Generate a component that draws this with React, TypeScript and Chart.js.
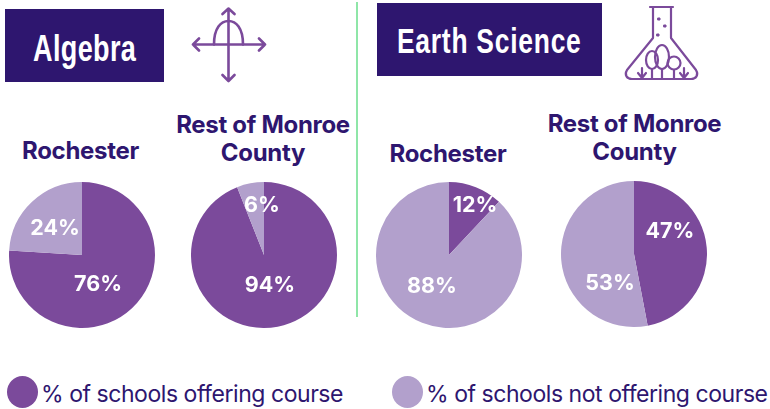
import React, { useEffect, useRef } from "react";
import { Chart, registerables } from "chart.js";

Chart.register(...registerables);

const seriesNames = ["% of schools offering course", "% of schools not offering course"];
const chartTitles = ["Rochester", "Rest of Monroe County", "Rochester", "Rest of Monroe County"];
const algebraRochester = [76, 24];
const algebraRest = [94, 6];
const earthRochester = [12, 88];
const earthRest = [47, 53];

const DARK = "#7b4a9b";
const LIGHT = "#b2a0cc";
const NAVY = "#2e166f";

const labelPlugin = {
  id: "pctLabels",
  afterDatasetsDraw(chart: any) {
    const ctx = chart.ctx;
    const meta = chart.getDatasetMeta(0);
    const data = chart.data.datasets[0].data;
    const offs = chart.options.plugins.pctLabels.offsets;
    ctx.save();
    ctx.fillStyle = "#ffffff";
    ctx.font = '700 21.5px Inter, "Noto Sans", sans-serif';
    ctx.textAlign = "center";
    ctx.textBaseline = "middle";
    meta.data.forEach((arc: any, i: number) => {
      ctx.fillText(data[i] + "%", arc.x + offs[i][0], arc.y + offs[i][1]);
    });
    ctx.restore();
  },
};

function Pie({ values, left, top, size, offsets }: { values: number[]; left: number; top: number; size: number; offsets: number[][] }) {
  const ref = useRef<HTMLCanvasElement>(null);
  useEffect(() => {
    const chart = new Chart(ref.current as HTMLCanvasElement, {
      type: "pie",
      data: {
        labels: seriesNames,
        datasets: [{ data: values, backgroundColor: [DARK, LIGHT], borderWidth: 0 }],
      },
      options: {
        animation: false,
        responsive: false,
        layout: { padding: 0 },
        plugins: { legend: { display: false }, tooltip: { enabled: false }, pctLabels: { offsets } } as any,
      },
      plugins: [labelPlugin],
    });
    return () => chart.destroy();
  }, []);
  return <canvas ref={ref} width={size} height={size} style={{ position: "absolute", left, top, width: size, height: size }} />;
}

const headBox = (left: number, top: number, width: number, height: number, text: string, size: number, spacing: number, sx: number, dy: number) => (
  <div style={{ position: "absolute", left, top, width, height, background: NAVY, color: "#fff", display: "flex", alignItems: "center", justifyContent: "center" }}>
    <span style={{ font: `700 ${size}px "Liberation Sans", sans-serif`, letterSpacing: spacing, whiteSpace: "nowrap", transform: `translateY(${dy}px) scaleX(${sx})`, display: "inline-block" }}>{text}</span>
  </div>
);

const sub = (cx: number, top: number, text: string) => (
  <div style={{ position: "absolute", left: cx - 100, width: 200, top, textAlign: "center", color: NAVY, font: '700 24px/28px Inter, sans-serif', letterSpacing: -0.3 }}>{text}</div>
);

export default function App() {
  return (
    <div style={{ position: "absolute", left: 0, top: 0, width: 770, height: 409, overflow: "hidden", background: "#fff" }}>
      {headBox(5, 9, 159, 73, "Algebra", 37, 0.5, 0.73, 3)}
      {headBox(377, 3, 225, 73, "Earth Science", 35, 1, 0.755, 1)}

      <svg width={90} height={90} style={{ position: "absolute", left: 185, top: 4 }} viewBox="185 4 90 90" fill="none" stroke={DARK} strokeWidth={2.6} strokeLinecap="round" strokeLinejoin="round">
        <path d="M193 44.5H265M199 38.5L193 44.5L199 50.5M259 38.5L265 44.5L259 50.5M228.500 9V80.500M222.500 14L228.500 8.500L234.500 14M222.500 75L228.500 81L234.500 75" />
        <path d="M214 44.500C214 28 221 21 228.500 21C236 21 243 28 243 44.500" />
      </svg>

      <svg width={90} height={90} style={{ position: "absolute", left: 615, top: 0 }} viewBox="615 0 90 90" fill="none" stroke={DARK} strokeWidth={2.2} strokeLinecap="round" strokeLinejoin="round">
        <path d="M650 7H673M653 7V38L627 70C624 75 627 79 632 79H691C696 79 699 75 696 70L671 38V7" />
        <ellipse cx="652" cy="60" rx="6" ry="9" />
        <ellipse cx="662" cy="57" rx="7" ry="12" />
        <circle cx="674" cy="63" r="6.500" />
        <path d="M652 69V79M662 69V79M674 70V79M642 68V78M638 73L642 78L646 73M684 68V78M680 73L684 78L688 73" />
        <rect x="658" y="18" width="2" height="2" fill={DARK} strokeWidth={1} />
        <rect x="664" y="25" width="2" height="2" fill={DARK} strokeWidth={1} />
        <rect x="657" y="34" width="2" height="2" fill={DARK} strokeWidth={1} />
      </svg>

      <div style={{ position: "absolute", left: 356, top: 2, width: 2, height: 315, background: "#8fe6a8" }} />

      {sub(80.5, 137, chartTitles[0])}
      {sub(263, 111, chartTitles[1])}
      {sub(448, 140, chartTitles[2])}
      {sub(634.5, 110, chartTitles[3])}

      <Pie values={algebraRochester} left={9} top={182} size={146} offsets={[[16, 30], [-27, -26]]} />
      <Pie values={algebraRest} left={191} top={182} size={146} offsets={[[6, 31], [-2, -49]]} />
      <Pie values={earthRochester} left={376} top={182} size={146} offsets={[[26, -49], [-17, 32]]} />
      <Pie values={earthRest} left={561} top={181} size={146} offsets={[[36, -22], [-24, 30]]} />

      <div style={{ position: "absolute", left: 7, top: 376, width: 31, height: 32, borderRadius: "50%", background: DARK }} />
      <div style={{ position: "absolute", left: 392, top: 376, width: 31, height: 32, borderRadius: "50%", background: LIGHT }} />
      <div style={{ position: "absolute", left: 41, top: 379, color: NAVY, font: '400 23px/30px Inter, sans-serif', letterSpacing: -0.45, whiteSpace: "nowrap" }}>{seriesNames[0]}</div>
      <div style={{ position: "absolute", left: 426, top: 379, color: NAVY, font: '400 23px/30px Inter, sans-serif', letterSpacing: -0.45, whiteSpace: "nowrap" }}>{seriesNames[1]}</div>
    </div>
  );
}
